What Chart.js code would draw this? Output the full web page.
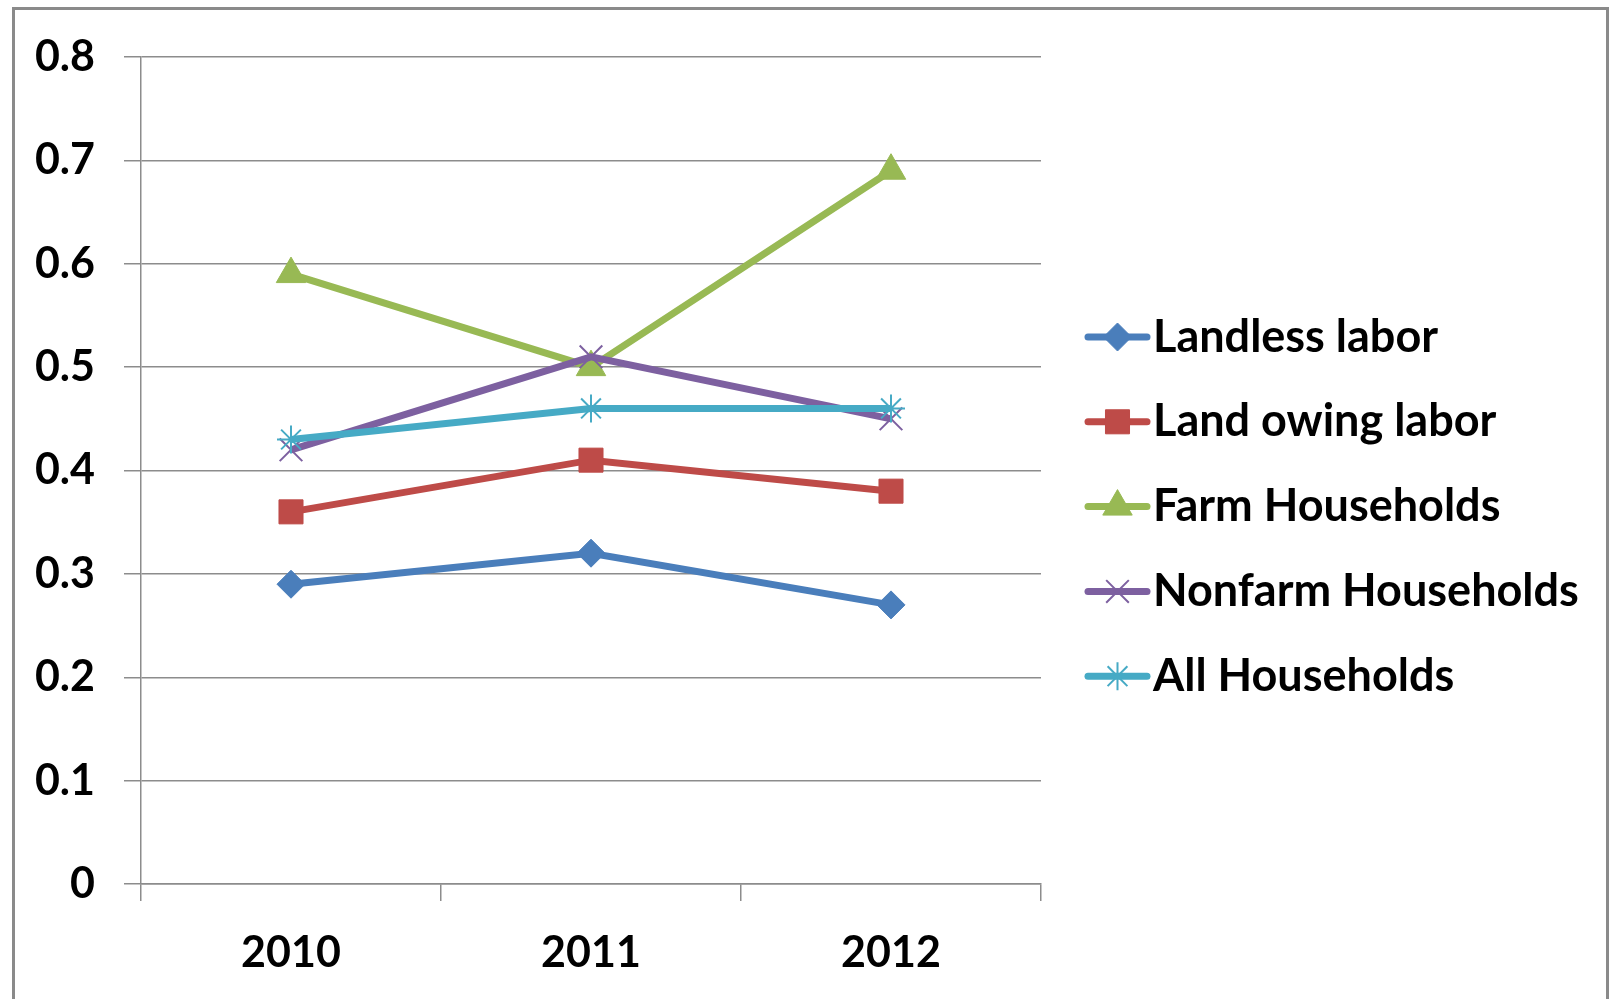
<!DOCTYPE html>
<html>
<head>
<meta charset="utf-8">
<script src="https://cdn.jsdelivr.net/npm/chart.js@4"></script>
<style>
  html, body { margin: 0; padding: 0; background: #fff; }
  canvas { display: block; }
</style>
</head>
<body>
<canvas id="households" width="1612" height="999"></canvas>
<script>
"use strict";

// data
var years = ["2010", "2011", "2012"];
var landlessLabor = [0.29, 0.32, 0.27];
var landOwingLabor = [0.36, 0.41, 0.38];
var farmHouseholds = [0.59, 0.50, 0.69];
var nonfarmHouseholds = [0.42, 0.51, 0.45];
var allHouseholds = [0.43, 0.46, 0.46];
var seriesNames = ["Landless labor", "Land owing labor", "Farm Households", "Nonfarm Households", "All Households"];
var yTicks = [0, 0.1, 0.2, 0.3, 0.4, 0.5, 0.6, 0.7, 0.8];

var FONT = "Lato, 'DejaVu Sans', sans-serif";
var GRID = "#8c8c8c";
var LINE_W = 7;

function series(i, data, color, style, radius, bw) {
	return {
		label: seriesNames[i],
		data: data,
		borderColor: color,
		backgroundColor: color,
		borderWidth: LINE_W,
		pointStyle: style,
		pointRadius: radius,
		pointHoverRadius: radius,
		pointBorderWidth: bw,
		pointBorderColor: color,
		pointBackgroundColor: color,
		tension: 0,
		fill: false,
		order: 4 - i
	};
}

// legend drawn by hand: line + marker + text, like the spreadsheet one
var sideLegend = {
	id: "sideLegend",
	afterDraw: function(chart) {
		var ctx = chart.ctx;
		var x0 = 1088, x1 = 1147, tx = 1153;
		var y0 = 337, step = 84.8;
		ctx.save();
		chart.data.datasets.forEach(function(ds, i) {
			var y = y0 + i * step;
			ctx.strokeStyle = ds.borderColor;
			ctx.lineWidth = LINE_W;
			ctx.lineCap = "round";
			ctx.beginPath();
			ctx.moveTo(x0, y);
			ctx.lineTo(x1, y);
			ctx.stroke();
			ctx.lineCap = "butt";
			ctx.fillStyle = ds.pointBackgroundColor;
			ctx.strokeStyle = ds.pointBorderColor;
			ctx.lineWidth = ds.pointBorderWidth;
			Chart.helpers.drawPoint(ctx, {
				pointStyle: ds.pointStyle,
				radius: ds.pointRadius,
				rotation: 0,
				borderWidth: ds.pointBorderWidth
			}, (x0 + x1) / 2, y);
			ctx.fillStyle = "#000";
			ctx.font = "bold 45px " + FONT;
			ctx.textBaseline = "middle";
			ctx.textAlign = "left";
			ctx.fillText(ds.label, tx, y);
		});
		// outer frame
		ctx.strokeStyle = "#8a8a8a";
		ctx.lineWidth = 3;
		ctx.strokeRect(13.5, 8.5, 1594, 1100);
		ctx.restore();
	}
};

function householdsChart() {
	var ctx = document.getElementById("households");
	var chart = new Chart(ctx, {
		type: "line",
		data: {
			labels: years,
			datasets: [
				series(0, landlessLabor, "#4A7EBB", "rectRot", 14, 1),
				series(1, landOwingLabor, "#BE4B48", "rect", 17, 1),
				series(2, farmHouseholds, "#98B954", "triangle", 17, 1),
				series(3, nonfarmHouseholds, "#7D60A0", "crossRot", 16, 2),
				series(4, allHouseholds, "#46AAC5", "star", 14, 2)
			]
		},
		options: {
			responsive: false,
			animation: false,
			layout: { padding: { top: 57, right: 571, left: 0, bottom: 0 } },
			plugins: {
				legend: { display: false },
				tooltip: { enabled: false }
			},
			scales: {
				x: {
					offset: true,
					grid: { offset: true, drawOnChartArea: false, drawTicks: true, tickLength: 17, color: GRID, lineWidth: 1.5 },
					border: { color: GRID, width: 1.5 },
					ticks: { color: "#000", padding: 26, font: { family: FONT, size: 43, weight: "bold" } },
					afterFit: function(scale) { scale.height = 115; }
				},
				y: {
					min: 0,
					max: 0.8,
					afterBuildTicks: function(scale) {
						scale.ticks = yTicks.map(function(v) { return { value: v }; });
					},
					grid: { color: GRID, lineWidth: 1.5, tickLength: 17 },
					border: { color: GRID, width: 1.5 },
					ticks: {
						color: "#000",
						padding: 29,
						font: { family: FONT, size: 43, weight: "bold" },
						callback: function(v) { return String(Math.round(v * 10) / 10); }
					},
					afterFit: function(scale) { scale.width = 141; }
				}
			}
		},
		plugins: [sideLegend]
	});
	return chart;
}

householdsChart();
</script>
</body>
</html>
